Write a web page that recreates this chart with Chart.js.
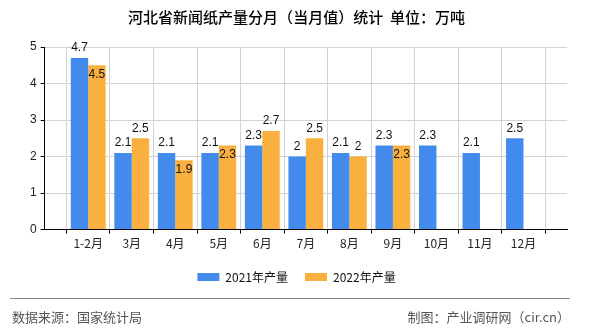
<!DOCTYPE html>
<html>
<head>
<meta charset="utf-8">
<script src="https://cdn.jsdelivr.net/npm/chart.js@4/dist/chart.umd.min.js"></script>
<style>
  html, body { margin: 0; padding: 0; background: #fff; }
  #wrap { width: 590px; height: 330px; }
</style>
</head>
<body>
<div id="wrap"><canvas id="chanChart" width="590" height="330"></canvas></div>
<script>
// ===== 数据 =====
const meses = ["1-2月", "3月", "4月", "5月", "6月", "7月", "8月", "9月", "10月", "11月", "12月"];
const prod2021 = [4.7, 2.1, 2.1, 2.1, 2.3, 2.0, 2.1, 2.3, 2.3, 2.1, 2.5];
const prod2022 = [4.5, 2.5, 1.9, 2.3, 2.7, 2.5, 2.0, 2.3, null, null, null];
const yTicks = [0, 1, 2, 3, 4, 5];

const titulo = "河北省新闻纸产量分月（当月值）统计  单位：万吨";
const fuenteIzq = "数据来源：国家统计局";
const fuenteDer = "制图：产业调研网（cir.cn）";

// eje x con un hueco al principio y al final
const etiquetas = [""].concat(meses, [""]);
const pad = arr => [null].concat(arr, [null]);

const FONT = "'Liberation Sans', Arial, 'Noto Sans CJK SC', sans-serif";
const CJK = "'Noto Sans CJK SC', 'Liberation Sans', sans-serif";

// etiquetas de valor encima de las barras
const valorLabels = {
    id: "valorLabels",
    afterDatasetsDraw(chart) {
        const ctx = chart.ctx;
        ctx.save();
        ctx.font = "12px " + FONT;
        ctx.fillStyle = "#111";
        ctx.textAlign = "center";
        ctx.textBaseline = "bottom";
        const m0 = chart.getDatasetMeta(0).data;
        const m1 = chart.getDatasetMeta(1).data;
        const ds = chart.data.datasets;
        for (let i = 0; i < etiquetas.length; i++) {
            let boxA = null;
            const va = ds[0].data[i];
            if (va != null) {
                const b = m0[i];
                const t = String(va);
                const w = ctx.measureText(t).width;
                const yb = b.y - 4;
                ctx.fillText(t, b.x, yb);
                boxA = { l: b.x - w / 2, r: b.x + w / 2, t: yb - 12, b: yb };
            }
            const vb = ds[1].data[i];
            if (vb != null) {
                const b = m1[i];
                const t = String(vb);
                const w = ctx.measureText(t).width;
                let yb = b.y - 4;
                const box = { l: b.x - w / 2, r: b.x + w / 2, t: yb - 12, b: yb };
                const choca = boxA && box.l < boxA.r + 1 && box.r > boxA.l - 1 && box.t < boxA.b && box.b > boxA.t;
                if (choca) yb = b.y + 15;
                ctx.fillText(t, b.x, yb);
            }
        }
        ctx.restore();
    }
};

// pie de página
const piePagina = {
    id: "piePagina",
    afterDraw(chart) {
        const ctx = chart.ctx;
        ctx.save();
        ctx.strokeStyle = "#888";
        ctx.lineWidth = 1;
        ctx.beginPath();
        ctx.moveTo(10, 298.5);
        ctx.lineTo(570, 298.5);
        ctx.stroke();
        ctx.font = "13px " + CJK;
        ctx.fillStyle = "#555";
        ctx.textBaseline = "middle";
        ctx.textAlign = "left";
        ctx.fillText(fuenteIzq, 12, 317);
        ctx.textAlign = "right";
        ctx.fillText(fuenteDer, 570, 317);
        ctx.restore();
    }
};

new Chart(document.getElementById("chanChart"), {
    type: "bar",
    data: {
        labels: etiquetas,
        datasets: [{
            label: "2021年产量",
            data: pad(prod2021),
            backgroundColor: "#428BEC",
            barPercentage: 1.0,
            categoryPercentage: 0.8
        }, {
            label: "2022年产量",
            data: pad(prod2022),
            backgroundColor: "#FAB03E",
            barPercentage: 1.0,
            categoryPercentage: 0.8
        }]
    },
    options: {
        responsive: false,
        animation: false,
        layout: { padding: { left: 26, right: 23, top: 6, bottom: 37 } },
        plugins: {
            tooltip: { enabled: false },
            title: {
                display: true,
                text: titulo,
                color: "#000",
                font: { size: 15, family: CJK, weight: "500" },
                padding: { top: 2, bottom: 21 }
            },
            legend: {
                position: "bottom",
                labels: {
                    boxWidth: 22,
                    boxHeight: 8,
                    color: "#111",
                    font: { size: 12, family: CJK },
                    padding: 17
                }
            }
        },
        scales: {
            x: {
                offset: false,
                grid: { color: "#d3d3d3", tickColor: "#000", tickLength: 4, drawOnChartArea: true },
                border: { color: "#000", width: 1 },
                ticks: { color: "#222", font: { size: 12, family: CJK }, maxRotation: 0, autoSkip: false, padding: 3 }
            },
            y: {
                min: 0,
                max: 5,
                afterBuildTicks: axis => { axis.ticks = yTicks.map(v => ({ value: v })); },
                grid: { color: "#d3d3d3", tickColor: "#000", tickLength: 4 },
                border: { color: "#000", width: 1 },
                ticks: { color: "#222", font: { size: 12, family: FONT }, padding: 4 }
            }
        }
    },
    plugins: [valorLabels, piePagina]
});
</script>
</body>
</html>
